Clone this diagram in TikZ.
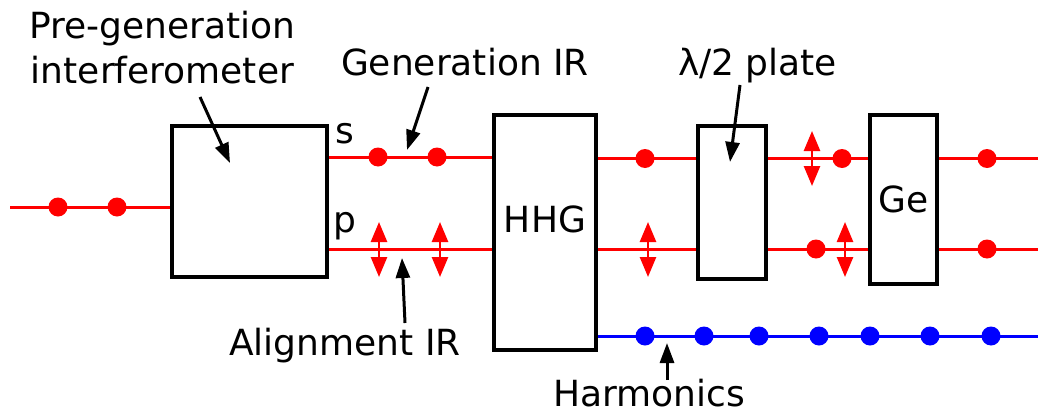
\documentclass[tikz,border=0pt]{standalone}
\usepackage{fontspec}
\setmainfont{DejaVu Sans}
\usetikzlibrary{arrows.meta}
\begin{document}
\begin{tikzpicture}[x=0.5pt,y=-0.5pt,
  box/.style={draw,line width=1.7pt,inner sep=0pt},
  lbl/.style={font=\fontsize{18}{22.5}\selectfont,inner sep=0pt,anchor=base},
  ir/.style={red,line width=1.5pt},
  xuv/.style={blue,line width=1.5pt},
  sdot/.style={circle,fill=red,inner sep=0pt,minimum size=9.5pt},
  hdot/.style={circle,fill=blue,inner sep=0pt,minimum size=9.5pt},
  pol/.style={red,line width=1.3pt,{Triangle[length=10pt,width=8pt]}-{Triangle[length=10pt,width=8pt]}},
  ptr/.style={black,line width=1.5pt,-{Triangle[length=10pt,width=7pt]}}]
\useasboundingbox (0,0) rectangle (1038,412);

% boxes
\node[box,minimum width=77.5pt,minimum height=75.5pt] (pg) at (249.5,201.5) {};
\node[box,minimum width=51pt,minimum height=117.5pt] (hhg) at (545,232.5) {};
\node[box,minimum width=34pt,minimum height=76.5pt] (wp) at (732,202.5) {};
\node[box,minimum width=33.5pt,minimum height=84.5pt] (ge) at (903.5,199.5) {};
\node[lbl] (hhgt) at (545,232) {HHG};
\node[lbl] (get) at (904,212) {Ge};

% beam reference coordinates
\coordinate (in) at (10,207);
\coordinate (ys) at (0,157);
\coordinate (yt) at (0,158.5);
\coordinate (yp) at (0,249);
\coordinate (yh) at (0,336);
\coordinate (rs) at (1038,158.5);
\coordinate (rp) at (1038,249);
\coordinate (rh) at (1038,336);

% beams
\draw[ir] (in) -- (pg.west |- in);
\draw[ir] (pg.east |- ys) -- (hhg.west |- ys);
\draw[ir] (pg.east |- yp) -- (hhg.west |- yp);
\draw[ir] (hhg.east |- yt) -- (wp.west |- yt);
\draw[ir] (hhg.east |- yp) -- (wp.west |- yp);
\draw[ir] (wp.east |- yt) -- (ge.west |- yt);
\draw[ir] (wp.east |- yp) -- (ge.west |- yp);
\draw[ir] (ge.east |- yt) -- (rs);
\draw[ir] (ge.east |- yp) -- (rp);
\draw[xuv] (hhg.east |- yh) -- (rh);

% s-polarisation dots
\foreach \x in {58,117} \node[sdot] at (\x,207) {};
\foreach \x in {378,437} \node[sdot] at (\x,157) {};
\foreach \x in {645,842,987} \node[sdot] at (\x,158.5) {};
\foreach \x in {816,987} \node[sdot] at (\x,249) {};
% p-polarisation arrows
\foreach \x in {379,440,648,845} \draw[pol] (\x,222) -- (\x,277);
\draw[pol] (812,131) -- (812,186);
% harmonics
\foreach \x in {645,704,759,819,870,930,991} \node[hdot] at (\x,336) {};

% labels
\node[lbl,align=center] (pre) at (162.5,83) {Pre-generation\\interferometer};
\node[lbl] (gen) at (465,75) {Generation IR};
\node[lbl] (lam) at (757.5,75) {λ/2 plate};
\node[lbl] (ali) at (345,355) {Alignment IR};
\node[lbl] (har) at (649,406) {Harmonics};
\node[lbl] (s) at (345,143) {s};
\node[lbl] (p) at (345,232) {p};

% pointers
\coordinate (preA) at (200,97);   \coordinate (preB) at (230,163);
\coordinate (genA) at (428,87);   \coordinate (genB) at (407,150);
\coordinate (lamA) at (740,85);   \coordinate (lamB) at (730,162);
\coordinate (aliA) at (405,323);  \coordinate (aliB) at (402,258);
\coordinate (harA) at (667,380);  \coordinate (harB) at (667,343);
\draw[ptr] (preA) -- (preB);
\draw[ptr] (genA) -- (genB);
\draw[ptr] (lamA) -- (lamB);
\draw[ptr] (aliA) -- (aliB);
\draw[ptr] (harA) -- (harB);
\end{tikzpicture}
\end{document}
